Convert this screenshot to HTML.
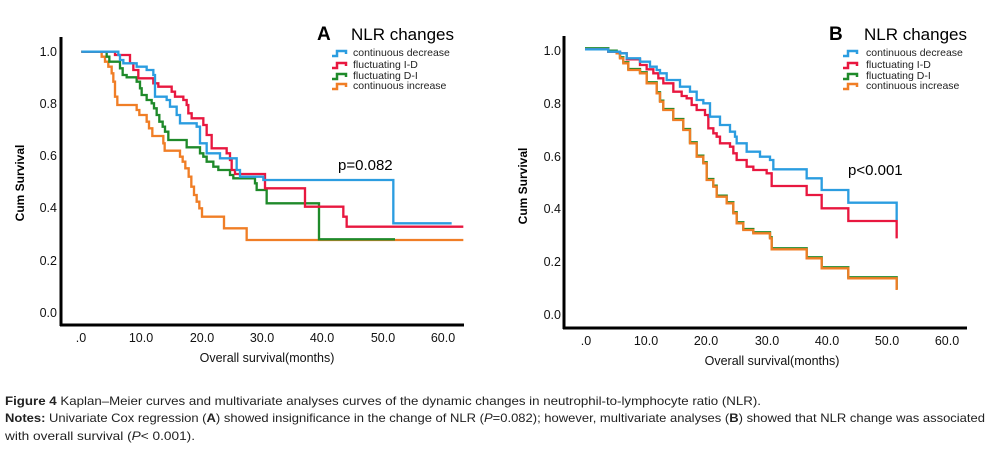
<!DOCTYPE html>
<html><head><meta charset="utf-8"><style>
html,body{margin:0;padding:0;background:#fff;}
svg{display:block;}
.t{font-family:"Liberation Sans",sans-serif;}
.cap{font-family:"Liberation Sans Narrow","Liberation Sans",sans-serif;font-size:12px;fill:#222;}
</style></head><body>
<svg width="1007" height="455" viewBox="0 0 1007 455" xmlns="http://www.w3.org/2000/svg">
<rect width="1007" height="455" fill="#fff"/>
<!-- Chart A -->
<g class="t">
<line x1="61" y1="37" x2="61" y2="326" stroke="#000" stroke-width="3"/>
<line x1="60" y1="325" x2="464" y2="325" stroke="#000" stroke-width="3"/>
<g font-size="12.5" text-anchor="end" fill="#111">
<text x="57" y="56">1.0</text><text x="57" y="108">0.8</text><text x="57" y="160">0.6</text><text x="57" y="212">0.4</text><text x="57" y="265">0.2</text><text x="57" y="317">0.0</text>
</g>
<g font-size="12.5" text-anchor="middle" fill="#111">
<text x="81" y="342">.0</text><text x="141" y="342">10.0</text><text x="202" y="342">20.0</text><text x="262" y="342">30.0</text><text x="322" y="342">40.0</text><text x="383" y="342">50.0</text><text x="443" y="342">60.0</text>
</g>
<text x="267" y="362" font-size="12.5" text-anchor="middle" fill="#111">Overall survival(months)</text>
<text transform="translate(24,183) rotate(-90)" font-size="12" font-weight="bold" text-anchor="middle">Cum Survival</text>
<text x="317" y="40" font-size="19" font-weight="bold">A</text>
<text x="351" y="40" font-size="17">NLR changes</text>
<text x="338" y="170" font-size="15">p=0.082</text>
</g>
<g transform="translate(0,20) scale(0.33333)" fill="none" stroke-width="7" stroke-linejoin="miter">
<path stroke="#f07e26" d="M244,95 H305 V110 H315 V125 H325 V140 H335 V160 H340 V185 H345 V230 H352 V255 H410 V270 H418 V285 H440 V305 H447 V325 H457 V348 H490 V370 H494 V392 H540 V410 H548 V425 H556 V445 H566 V470 H574 V500 H582 V525 H590 V545 H598 V565 H606 V590 H672 V625 H740 V660 H1390"/>
<path stroke="#1f8a2a" d="M244,95 H320 V110 H328 V125 H360 V145 H368 V165 H380 V172 H410 V185 H420 V205 H425 V225 H440 V240 H455 V250 H462 V265 H470 V285 H478 V305 H488 V320 H495 V335 H505 V360 H560 V382 H600 V400 H610 V410 H620 V425 H640 V440 H655 V450 H690 V465 H700 V475 H765 V490 H770 V510 H800 V550 H957 V658 H1185"/>
<path stroke="#e8173f" d="M244,95 H345 V105 H390 V130 H400 V150 H415 V175 H460 V190 H475 V200 H515 V215 H525 V230 H550 V240 H560 V255 H565 V280 H575 V295 H610 V315 H620 V345 H635 V385 H680 V400 H690 V420 H695 V450 H705 V462 H795 V505 H915 V560 H1030 V590 H1040 V620 H1390"/>
<path stroke="#2b9de0" d="M244,95 H355 V105 H360 V120 H370 V130 H410 V140 H440 V150 H460 V165 H465 V230 H500 V240 H510 V260 H530 V285 H540 V310 H590 V320 H600 V370 H620 V400 H660 V415 H710 V450 H720 V470 H790 V480 H1180 V610 H1355"/>
</g>
<!-- legend A -->
<g fill="none" stroke-width="2.5">
<path stroke="#2b9de0" d="M332,56 H337 V51 H346 V54"/>
<path stroke="#e8173f" d="M332,68 H337 V63 H346 V66"/>
<path stroke="#1f8a2a" d="M332,79 H337 V74 H346 V77"/>
<path stroke="#f07e26" d="M332,89 H337 V84 H346 V87"/>
</g>
<g class="t" font-size="10.5" fill="#222">
<text x="353" y="56">continuous decrease</text><text x="353" y="68">fluctuating I-D</text><text x="353" y="79">fluctuating D-I</text><text x="353" y="89">continuous increase</text>
</g>

<!-- Chart B -->
<g class="t">
<line x1="564" y1="36" x2="564" y2="329" stroke="#000" stroke-width="3"/>
<line x1="563" y1="328" x2="967" y2="328" stroke="#000" stroke-width="3"/>
<g font-size="12.5" text-anchor="end" fill="#111">
<text x="561" y="55">1.0</text><text x="561" y="108">0.8</text><text x="561" y="161">0.6</text><text x="561" y="213">0.4</text><text x="561" y="266">0.2</text><text x="561" y="319">0.0</text>
</g>
<g font-size="12.5" text-anchor="middle" fill="#111">
<text x="586" y="345">.0</text><text x="646" y="345">10.0</text><text x="706" y="345">20.0</text><text x="767" y="345">30.0</text><text x="827" y="345">40.0</text><text x="887" y="345">50.0</text><text x="947" y="345">60.0</text>
</g>
<text x="772" y="365" font-size="12.5" text-anchor="middle" fill="#111">Overall survival(months)</text>
<text transform="translate(527,186) rotate(-90)" font-size="12" font-weight="bold" text-anchor="middle">Cum Survival</text>
<text x="829" y="40" font-size="19" font-weight="bold">B</text>
<text x="864" y="40" font-size="17">NLR changes</text>
<text x="848" y="175" font-size="15">p&lt;0.001</text>
</g>
<g transform="translate(500,20) scale(0.33333)" fill="none" stroke-width="7">
<path stroke="#1f8a2a" transform="translate(0,-3)" d="M255,88 H325 V95 H350 V100 H360 V115 H370 V130 H385 V150 H420 V160 H440 V190 H470 V220 H480 V245 H490 V270 H520 V300 H550 V330 H570 V370 H590 V410 H610 V430 H620 V480 H640 V500 H650 V530 H680 V550 H700 V580 H710 V610 H730 V630 H760 V640 H810 V655 H815 V688 H920 V715 H965 V745 H1045 V775 H1190 V810"/>
<path stroke="#f07e26" d="M255,88 H325 V95 H350 V100 H360 V115 H370 V130 H385 V150 H420 V160 H440 V190 H470 V220 H480 V245 H490 V270 H520 V300 H550 V330 H570 V370 H590 V410 H610 V430 H620 V480 H640 V500 H650 V530 H680 V550 H700 V580 H710 V610 H730 V630 H760 V640 H810 V655 H815 V688 H920 V715 H965 V745 H1045 V775 H1190 V810"/>
<path stroke="#e8173f" d="M255,88 H325 V95 H360 V100 H380 V118 H420 V135 H440 V148 H460 V160 H475 V175 H490 V190 H520 V215 H545 V228 H560 V235 H575 V255 H590 V270 H615 V285 H625 V325 H640 V340 H650 V350 H660 V370 H690 V380 H700 V400 H710 V420 H740 V440 H760 V450 H800 V460 H815 V498 H920 V525 H965 V565 H1045 V603 H1190 V655"/>
<path stroke="#2b9de0" d="M255,88 H325 V95 H360 V100 H380 V115 H420 V125 H450 V140 H470 V150 H480 V160 H500 V180 H540 V200 H570 V215 H590 V240 H610 V250 H630 V290 H660 V315 H690 V335 H705 V350 H710 V370 H740 V395 H780 V410 H810 V420 H820 V448 H920 V475 H965 V510 H1045 V548 H1190 V600"/>
</g>
<g fill="none" stroke-width="2.5">
<path stroke="#2b9de0" d="M843,56 H848 V51 H857 V54"/>
<path stroke="#e8173f" d="M843,68 H848 V63 H857 V66"/>
<path stroke="#1f8a2a" d="M843,79 H848 V74 H857 V77"/>
<path stroke="#f07e26" d="M843,89 H848 V84 H857 V87"/>
</g>
<g class="t" font-size="10.5" fill="#222">
<text x="866" y="56">continuous decrease</text><text x="866" y="68">fluctuating I-D</text><text x="866" y="79">fluctuating D-I</text><text x="866" y="89">continuous increase</text>
</g>

<!-- caption -->
<text class="cap" x="5" y="405" textLength="756" lengthAdjust="spacingAndGlyphs"><tspan font-weight="bold">Figure 4</tspan> Kaplan–Meier curves and multivariate analyses curves of the dynamic changes in neutrophil-to-lymphocyte ratio (NLR).</text>
<text class="cap" x="5" y="422" textLength="980" lengthAdjust="spacingAndGlyphs"><tspan font-weight="bold">Notes:</tspan> Univariate Cox regression (<tspan font-weight="bold">A</tspan>) showed insignificance in the change of NLR (<tspan font-style="italic">P</tspan>=0.082); however, multivariate analyses (<tspan font-weight="bold">B</tspan>) showed that NLR change was associated</text>
<text class="cap" x="5" y="440" textLength="190" lengthAdjust="spacingAndGlyphs">with overall survival (<tspan font-style="italic">P</tspan>&lt; 0.001).</text>
</svg>
</body></html>
